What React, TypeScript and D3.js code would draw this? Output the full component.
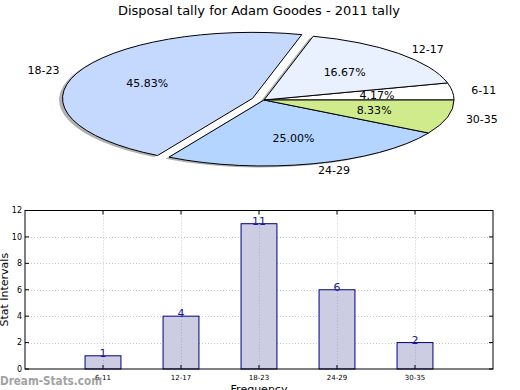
import React from 'react';
import * as d3 from 'd3';

// pie data (matplotlib order: counter-clockwise from 3 o'clock)
const pieLabels = ['6-11', '12-17', '18-23', '24-29', '30-35'];
const pieValues = [1, 4, 11, 6, 2];
const pieColors = ['#ffffff', '#e9f1ff', '#c5d9ff', '#b3d5ff', '#cfeb8c'];
const pieExplode = [0, 0, 0.065, 0, 0];

// bar data
const barCategories = ['6-11', '12-17', '18-23', '24-29', '30-35'];
const barValues = [1, 4, 11, 6, 2];
const yTicks = [0, 2, 4, 6, 8, 10, 12];

const W = 520;
const H = 390;
const FONT = '"DejaVu Sans", Verdana, sans-serif';

const Pie: React.FC = () => {
  const cx = 264;
  const cy = 100;
  const rx = 190;
  const ry = 66;
  const total = d3.sum(pieValues);

  // d3 angles run clockwise from north; going from PI/2 down gives matplotlib's CCW-from-east
  const arcs = d3
    .pie<number>()
    .sort(null)
    .startAngle(Math.PI / 2)
    .endAngle(Math.PI / 2 - 2 * Math.PI)(pieValues);

  const arcGen = d3.arc<d3.PieArcDatum<number>>().innerRadius(0).outerRadius(1);

  const pt = (a: number, r: number) => [Math.sin(a) * r, -Math.cos(a) * r];

  return (
    <g>
      {/* shadow layer */}
      <g opacity={0.45}>
        {arcs.map((a, i) => {
          const mid = (a.startAngle + a.endAngle) / 2;
          const [ox, oy] = pt(mid, pieExplode[i]);
          return (
            <path
              key={`sh-${i}`}
              d={arcGen(a) || ''}
              transform={`translate(${cx - 3.5 + ox * rx},${cy + 1.5 + oy * ry}) scale(${rx},${ry})`}
              fill="#555"
              stroke="none"
            />
          );
        })}
      </g>
      {arcs.map((a, i) => {
        const mid = (a.startAngle + a.endAngle) / 2;
        const [ox, oy] = pt(mid, pieExplode[i]);
        return (
          <path
            key={`w-${i}`}
            d={arcGen(a) || ''}
            transform={`translate(${cx + ox * rx},${cy + oy * ry}) scale(${rx},${ry})`}
            fill={pieColors[i]}
            stroke="#000"
            strokeWidth={1}
            strokeLinejoin="round"
            vectorEffect="non-scaling-stroke"
          />
        );
      })}
      {arcs.map((a, i) => {
        const mid = (a.startAngle + a.endAngle) / 2;
        const e = pieExplode[i];
        const [lx, ly] = pt(mid, 1.1 + e);
        const [px, py] = pt(mid, 0.6 + e);
        return (
          <g key={`l-${i}`} fontFamily={FONT} fontSize={11} fill="#000">
            <text
              x={cx + lx * rx}
              y={cy + ly * ry}
              dy="0.35em"
              textAnchor={lx > 0 ? 'start' : 'end'}
            >
              {pieLabels[i]}
            </text>
            <text x={cx + px * rx} y={cy + py * ry} dy="0.35em" textAnchor="middle">
              {((pieValues[i] / total) * 100).toFixed(2)}%
            </text>
          </g>
        );
      })}
    </g>
  );
};

const Bars: React.FC = () => {
  const left = 25;
  const right = 493;
  const top = 210.5;
  const bottom = 369;

  const x = d3.scaleLinear().domain([-1, 5]).range([left, right]);
  const y = d3.scaleLinear().domain([0, 12]).range([bottom, top]);
  const bw = 0.46;

  return (
    <g fontFamily={FONT}>
      {/* grid */}
      <g stroke="#c8c8c8" strokeWidth={1} strokeDasharray="1,2">
        {yTicks.slice(1, -1).map((t) => (
          <line key={`gy-${t}`} x1={left} x2={right} y1={Math.round(y(t)) + 0.5} y2={Math.round(y(t)) + 0.5} />
        ))}
        {barCategories.map((c, i) => (
          <line key={`gx-${c}`} x1={Math.round(x(i)) + 0.5} x2={Math.round(x(i)) + 0.5} y1={top} y2={bottom} />
        ))}
      </g>

      {/* bars */}
      {barValues.map((v, i) => (
        <rect
          key={`b-${i}`}
          x={x(i - bw / 2)}
          y={y(v)}
          width={x(bw) - x(0)}
          height={bottom - y(v)}
          fill="#cccce3"
          stroke="#000080"
          strokeWidth={1}
        />
      ))}
      {/* grid over bars, as in the source */}
      <g stroke="#a0a0b0" strokeWidth={1} strokeDasharray="1,2" opacity={0.7}>
        {barValues.map((v, i) => (
          <line key={`go-${i}`} x1={Math.round(x(i)) + 0.5} x2={Math.round(x(i)) + 0.5} y1={y(v) + 1} y2={bottom} />
        ))}
      </g>

      {/* value labels */}
      {barValues.map((v, i) => (
        <text
          key={`v-${i}`}
          x={x(i)}
          y={y(v) + 1}
          textAnchor="middle"
          fontSize={11}
          fill="#1a1a9a"
        >
          {v}
        </text>
      ))}

      {/* frame */}
      <rect x={left} y={top} width={right - left} height={bottom - top} fill="none" stroke="#000" strokeWidth={1} />

      {/* y ticks */}
      {yTicks.map((t) => (
        <g key={`yt-${t}`}>
          <line x1={left} x2={left + 4} y1={y(t)} y2={y(t)} stroke="#000" />
          <line x1={right - 4} x2={right} y1={y(t)} y2={y(t)} stroke="#000" />
          <text x={left - 3} y={y(t)} dy="0.35em" textAnchor="end" fontSize={8}>
            {t}
          </text>
        </g>
      ))}

      {/* x ticks */}
      {barCategories.map((c, i) => (
        <g key={`xt-${c}`}>
          <line x1={x(i)} x2={x(i)} y1={bottom} y2={bottom - 4} stroke="#000" />
          <line x1={x(i)} x2={x(i)} y1={top} y2={top + 4} stroke="#000" />
          <text x={x(i)} y={380} textAnchor="middle" fontSize={7}>
            {c}
          </text>
        </g>
      ))}

      <text x={(left + right) / 2} y={393} textAnchor="middle" fontSize={11}>
        Frequency
      </text>
      <text
        transform={`translate(8,${(top + bottom) / 2}) rotate(-90)`}
        textAnchor="middle"
        fontSize={11}
      >
        Stat Intervals
      </text>
    </g>
  );
};

export default function App() {
  return (
    <svg
      width={W}
      height={H}
      viewBox={`0 0 ${W} ${H}`}
      style={{ position: 'absolute', left: 0, top: 0, background: '#fff' }}
    >
      <rect width={W} height={H} fill="#fff" />
      <text x={259} y={15} textAnchor="middle" fontFamily={FONT} fontSize={13}>
        Disposal tally for Adam Goodes - 2011 tally
      </text>
      <Pie />
      <Bars />
      <text x={0} y={385} fontFamily={FONT} fontSize={11.5} fontWeight={600} fill="#8c8c8c" opacity={0.8} textLength={102} lengthAdjust="spacingAndGlyphs">
        Dream-Stats.com
      </text>
    </svg>
  );
}
